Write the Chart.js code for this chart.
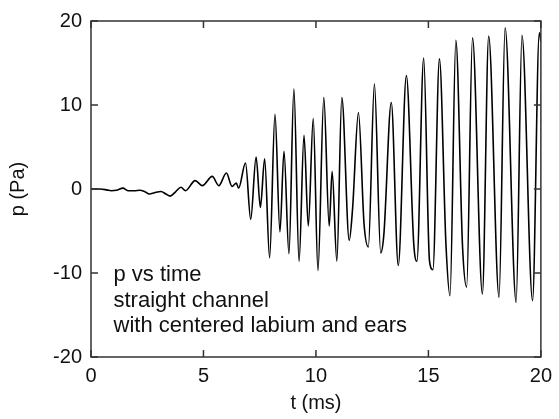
<!DOCTYPE html>
<html>
<head>
<meta charset="utf-8">
<script src="https://cdn.jsdelivr.net/npm/chart.js@4"></script>
<style>
  html, body { margin: 0; padding: 0; background: #fff; }
  #wrap { width: 559px; height: 419px; }
</style>
</head>
<body>
<div id="wrap"><canvas id="chart" width="559" height="419"></canvas></div>
<script>
// pressure trace (peaks, troughs, a few shoulders)
const timeMs = [
  0, 0.4, 0.7, 0.9, 1.13, 1.42, 1.64, 1.94, 2.16, 2.38, 2.6, 2.82, 3.11, 3.33, 3.52,
  3.77, 4.0, 4.2, 4.63, 4.95, 5.39, 5.68, 6.02, 6.27, 6.46, 6.56, 6.87, 7.1,
  7.34, 7.53, 7.72, 7.94, 8.18, 8.4, 8.58, 8.8, 9.02, 9.25, 9.47, 9.66, 9.88, 10.09,
  10.35, 10.59, 10.72, 10.93, 11.15, 11.48, 11.63, 11.89, 12.14, 12.33, 12.6, 12.88,
  13.02, 13.35, 13.66, 14.02, 14.35, 14.49, 14.79, 15.05, 15.2, 15.49, 15.78, 15.96,
  16.22, 16.52, 16.7, 16.96, 17.4, 17.68, 18.14, 18.41, 18.9, 19.16, 19.63, 19.93, 20
];
const pressurePa = [
  0, 0, -0.1, -0.2, -0.15, 0.1, -0.2, -0.2, -0.15, -0.3, -0.6, -0.45, -0.3, -0.6, -0.85,
  -0.3, 0.2, -0.2, 1.0, 0.4, 1.5, 0.4, 1.9, 0.3, 0.7, 0.1, 3.1, -3.6,
  3.8, -2.2, 3.6, -8.2, 8.9, -5.1, 4.5, -7.7, 11.9, -8.6, 6.4, -4.4, 8.4, -9.7,
  10.9, -4.4, 2.1, -8.6, 10.9, -6.1, -2.3, 9.1, -4.2, -6.9, 12.5, -7.6,
  -5.4, 10.3, -9.1, 13.5, -6.6, -8.6, 15.6, -8.6, -9.6, 15.5, -6.6, -12.7,
  17.7, -7, -11.7, 18.0, -12.5, 18.2, -12.9, 19.2, -13.5, 18.3, -13.3, 18.6, 17.5
];
const xTicks = [0, 5, 10, 15, 20];
const yTicks = [-20, -10, 0, 10, 20];
const noteLines = ['p vs time', 'straight channel', 'with centered labium and ears'];

const FONT = 'Liberation Sans, Arial, Helvetica, sans-serif';
const points = timeMs.map((t, i) => ({ x: t, y: pressurePa[i] }));

// box frame with inward ticks on all four sides, plus the note text
const framePlugin = {
  id: 'frame',
  afterDraw(chart) {
    const ctx = chart.ctx;
    const a = chart.chartArea;
    const xs = chart.scales.x, ys = chart.scales.y;
    const len = 7;
    ctx.save();
    ctx.strokeStyle = '#333';
    ctx.lineWidth = 1.5;
    ctx.strokeRect(a.left, a.top, a.right - a.left, a.bottom - a.top);
    ctx.beginPath();
    xTicks.forEach(v => {
      const px = xs.getPixelForValue(v);
      ctx.moveTo(px, a.bottom); ctx.lineTo(px, a.bottom - len);
      ctx.moveTo(px, a.top); ctx.lineTo(px, a.top + len);
    });
    yTicks.forEach(v => {
      const py = ys.getPixelForValue(v);
      ctx.moveTo(a.left, py); ctx.lineTo(a.left + len, py);
      ctx.moveTo(a.right, py); ctx.lineTo(a.right - len, py);
    });
    ctx.stroke();

    ctx.fillStyle = '#111';
    ctx.font = '22px ' + FONT;
    ctx.textAlign = 'left';
    ctx.textBaseline = 'alphabetic';
    const x0 = xs.getPixelForValue(1.0);
    noteLines.forEach((line, i) => {
      ctx.fillText(line, x0, ys.getPixelForValue(-11.0) + i * 25.3);
    });
    ctx.restore();
  }
};

new Chart(document.getElementById('chart').getContext('2d'), {
  type: 'line',
  data: {
    datasets: [{
      data: points,
      borderColor: '#000',
      borderWidth: 1.6,
      pointRadius: 0,
      fill: false,
      cubicInterpolationMode: 'monotone'
    }]
  },
  options: {
    responsive: false,
    animation: false,
    layout: { padding: { top: 18, right: 14, left: 0, bottom: 0 } },
    plugins: { legend: { display: false }, tooltip: { enabled: false } },
    scales: {
      x: {
        type: 'linear',
        min: 0, max: 20,
        afterFit: s => { s.height = 62; },
        afterBuildTicks: s => { s.ticks = xTicks.map(v => ({ value: v })); },
        grid: { display: false, drawTicks: false },
        border: { display: false },
        ticks: { padding: 7, color: '#111', font: { family: FONT, size: 20 }, maxRotation: 0 },
        title: { display: true, text: 't (ms)', color: '#111', font: { family: FONT, size: 20 }, padding: { top: 0, bottom: 4 } }
      },
      y: {
        type: 'linear',
        min: -20, max: 20,
        afterFit: s => { s.width = 91; },
        afterBuildTicks: s => { s.ticks = yTicks.map(v => ({ value: v })); },
        grid: { display: false, drawTicks: false },
        border: { display: false },
        ticks: { padding: 9, color: '#111', font: { family: FONT, size: 20 } },
        title: { display: true, text: 'p (Pa)', color: '#111', font: { family: FONT, size: 20 }, padding: { top: 6, bottom: 0 } }
      }
    }
  },
  plugins: [framePlugin]
});
</script>
</body>
</html>
